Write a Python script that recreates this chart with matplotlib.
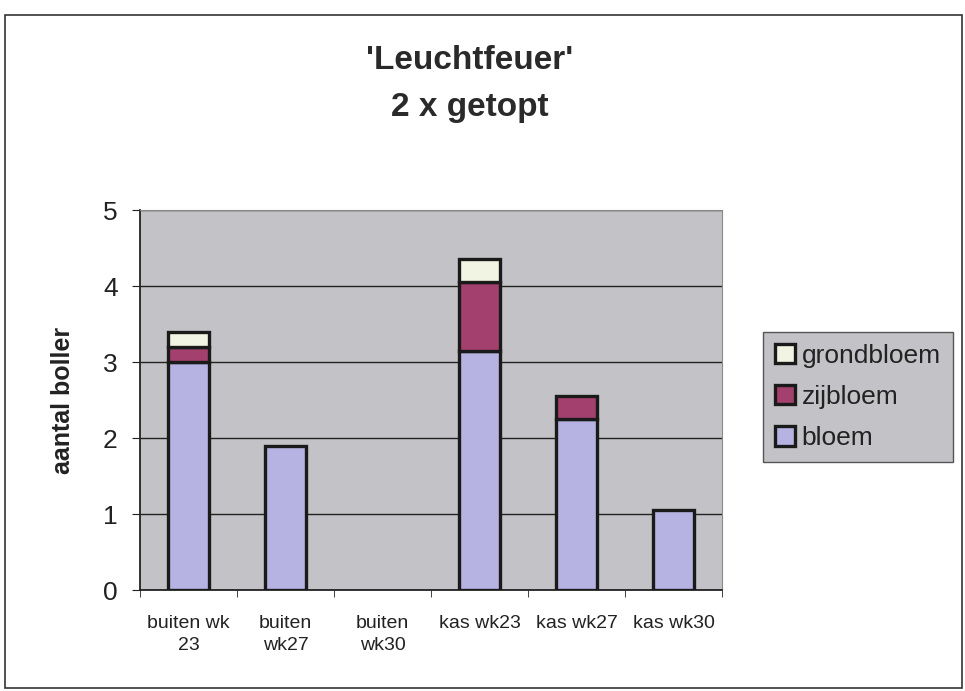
import numpy as np
import matplotlib
matplotlib.use('Agg')
import matplotlib.pyplot as plt
from matplotlib.patches import Rectangle

categories = ['buiten wk\n23', 'buiten\nwk27', 'buiten\nwk30', 'kas wk23', 'kas wk27', 'kas wk30']
bloem = [3.0, 1.9, 0.0, 3.15, 2.25, 1.05]
zijbloem = [0.2, 0.0, 0.0, 0.9, 0.3, 0.0]
grondbloem = [0.2, 0.0, 0.0, 0.3, 0.0, 0.0]

plt.rcParams['font.family'] = ['Liberation Sans', 'DejaVu Sans']

fig = plt.figure(figsize=(9.65, 6.91), dpi=100)
ax = fig.add_axes([140/965, 1 - 590/691, 582/965, 380/691])
ax.set_facecolor('#c3c3c7')

# page frame
fig.patches.append(Rectangle((5/965, 3/691), 957/965, 673/691, transform=fig.transFigure,
                             fill=False, edgecolor='#333333', linewidth=1.2))

x = np.arange(len(categories))
w = 0.42


def stack(vals, bottom, color, label):
    vals = np.array(vals)
    edges = ['#1a1a1a' if v > 0 else 'none' for v in vals]
    ax.bar(x, vals, bottom=bottom, width=w, color=color, edgecolor=edges,
           linewidth=2.4, zorder=3, label=label)


bottom2 = np.array(bloem)
bottom3 = bottom2 + np.array(zijbloem)
stack(bloem, 0, '#b6b3e2', 'bloem')
stack(zijbloem, bottom2, '#a3406e', 'zijbloem')
stack(grondbloem, bottom3, '#f1f4e2', 'grondbloem')

ax.set_xlim(-0.5, len(categories) - 0.5)
ax.set_ylim(0, 5)
ax.set_yticks(range(6))
ax.yaxis.grid(True, color='#222222', linewidth=1.0, zorder=1)
ax.set_axisbelow(True)

ax.set_xticks(x)
ax.set_xticklabels(categories, fontsize=14, linespacing=1.35, color='#222222')
ax.set_xticks(np.arange(-0.5, len(categories)), minor=True)
ax.tick_params(axis='x', which='major', length=0, pad=18)
ax.tick_params(axis='x', which='minor', length=5, direction='out', color='#222222')
ax.tick_params(axis='y', length=6, direction='out', labelsize=19, pad=10, color='#222222',
               labelcolor='#222222')

for s in ['top', 'right']:
    ax.spines[s].set_color('#8a8a8a')
ax.spines['left'].set_color('#222222')
ax.spines['bottom'].set_color('#222222')
ax.spines['left'].set_linewidth(1.3)
ax.spines['bottom'].set_linewidth(1.3)

ax.set_ylabel('aantal boller', fontsize=18, fontweight='bold', labelpad=20, color='#222222')

fig.text(470/965, 1 - 84/691, "'Leuchtfeuer'\n2 x getopt", ha='center', va='center',
         fontsize=24, fontweight='bold', color='#2a2a2a', linespacing=1.7)

handles, labels = ax.get_legend_handles_labels()
leg = fig.legend(handles[::-1], labels[::-1], loc='center', bbox_to_anchor=(858/965, 1 - 397/691),
                 fontsize=19, frameon=True, fancybox=False, handlelength=0.75, handleheight=0.75,
                 handletextpad=0.25, labelspacing=0.65, borderpad=0.45, borderaxespad=0)
leg.get_frame().set_facecolor('#c3c3c7')
leg.get_frame().set_edgecolor('#555555')
leg.get_frame().set_alpha(1)
for t in leg.get_texts():
    t.set_color('#222222')

fig.savefig('out.png', dpi=100)
